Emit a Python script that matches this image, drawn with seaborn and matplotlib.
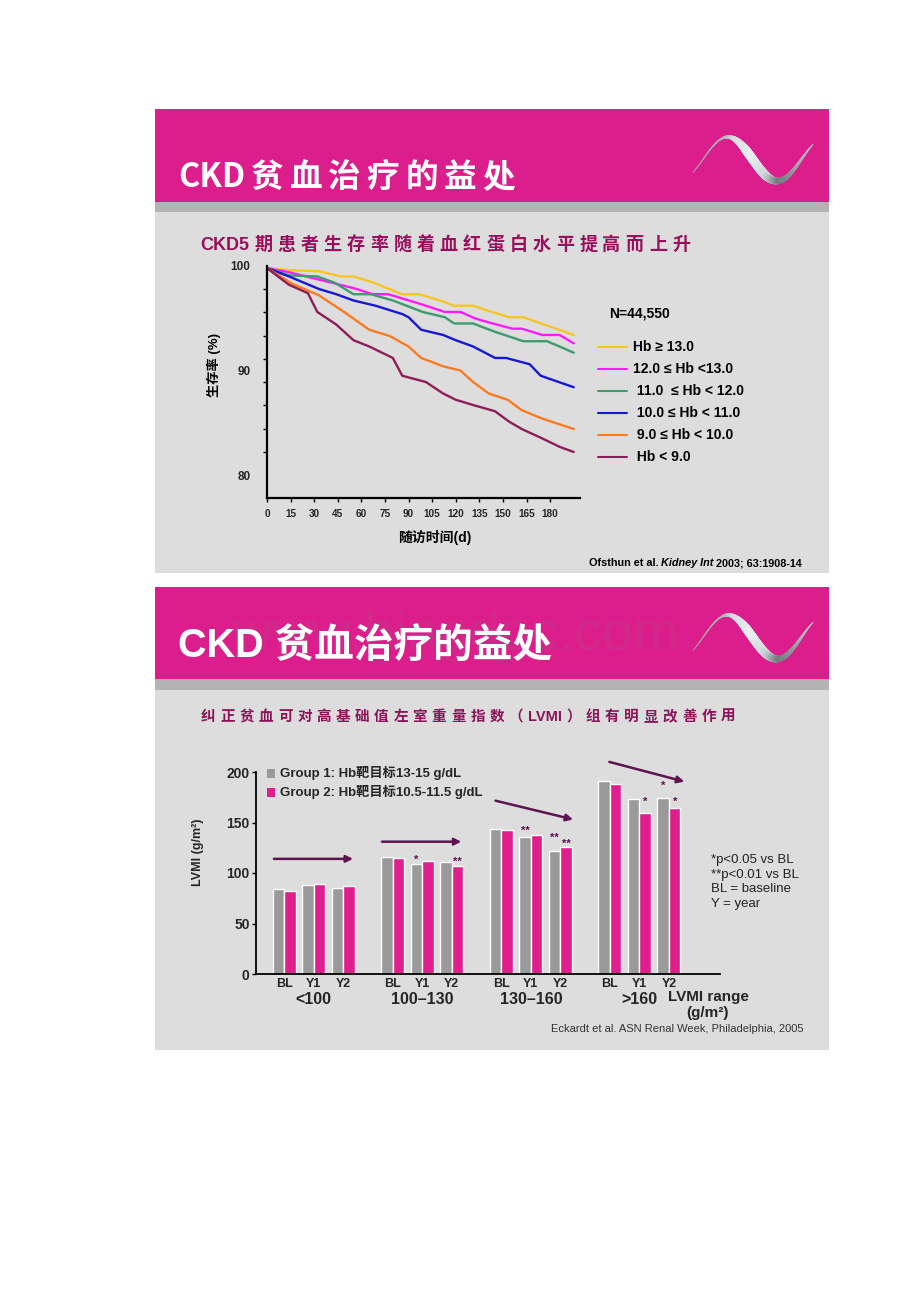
import re
import numpy as np
import pandas as pd
import matplotlib
matplotlib.use("Agg")
import matplotlib.pyplot as plt
import seaborn as sns
from matplotlib.patches import Rectangle
from matplotlib.collections import LineCollection

# ---------------- slide 1 data: survival by Hb band ----------------
HB_LABELS = ["Hb ≥ 13.0", "12.0 ≤ Hb <13.0", " 11.0  ≤ Hb < 12.0",
             " 10.0 ≤ Hb < 11.0", " 9.0 ≤ Hb < 10.0", " Hb < 9.0"]
HB_COLORS = ["#f7c623", "#ff1aff", "#3d9c6e", "#1717d4", "#ff7a1f", "#8e1d57"]

days_hb13 = [0, 15, 33, 47, 55, 68, 76, 86, 97, 112, 119, 131, 141, 154, 163, 195]
surv_hb13 = [99.8, 99.6, 99.5, 99.0, 99.0, 98.4, 97.9, 97.3, 97.3, 96.6, 96.2, 96.2, 95.7, 95.1, 95.1, 93.4]
days_hb12 = [0, 14, 33, 44, 57, 67, 77, 88, 99, 113, 123, 132, 141, 156, 162, 175, 186, 195]
surv_hb12 = [99.8, 99.4, 98.7, 98.3, 97.8, 97.3, 97.3, 96.8, 96.3, 95.6, 95.6, 95.0, 94.6, 94.0, 94.0, 93.4, 93.4, 92.6]
days_hb11 = [0, 14, 32, 43, 55, 66, 80, 99, 113, 119, 131, 145, 163, 178, 186, 195]
surv_hb11 = [99.8, 99.1, 99.0, 98.4, 97.3, 97.3, 96.7, 95.6, 95.1, 94.5, 94.5, 93.7, 92.8, 92.8, 92.3, 91.7]
days_hb10 = [0, 14, 33, 44, 55, 69, 86, 90, 98, 112, 120, 131, 145, 152, 167, 174, 195]
surv_hb10 = [99.8, 99.0, 97.8, 97.3, 96.7, 96.2, 95.4, 95.1, 93.9, 93.4, 92.9, 92.3, 91.2, 91.2, 90.6, 89.5, 88.4]
days_hb9 = [0, 16, 33, 50, 65, 78, 90, 98, 112, 123, 131, 141, 153, 162, 175, 195]
surv_hb9 = [99.8, 98.3, 97.2, 95.5, 93.9, 93.3, 92.3, 91.2, 90.4, 90.0, 88.9, 87.8, 87.2, 86.2, 85.4, 84.4]
days_hb0 = [0, 14, 26, 32, 44, 55, 65, 80, 86, 101, 112, 120, 131, 145, 154, 162, 175, 186, 195]
surv_hb0 = [99.8, 98.2, 97.4, 95.6, 94.4, 92.9, 92.3, 91.2, 89.5, 88.9, 87.8, 87.2, 86.7, 86.1, 85.1, 84.4, 83.5, 82.7, 82.2]

ALL_DAYS = [days_hb13, days_hb12, days_hb11, days_hb10, days_hb9, days_hb0]
ALL_SURV = [surv_hb13, surv_hb12, surv_hb11, surv_hb10, surv_hb9, surv_hb0]
DAY_TICKS = [0, 15, 30, 45, 60, 75, 90, 105, 120, 135, 150, 165, 180]

# ---------------- slide 2 data: LVMI by range ----------------
RANGES = ["<100", "100–130", "130–160", ">160"]
VISITS = ["BL", "Y1", "Y2"]
GROUP_NAMES = ["Group 1: Hb靶目标13-15 g/dL", "Group 2: Hb靶目标10.5-11.5 g/dL"]
lvmi_group1 = [84.0, 88.3, 85.6, 115.4, 109.1, 110.4, 143.5, 135.5, 122.0, 190.7, 173.6, 174.5]
lvmi_group2 = [82.6, 89.3, 87.3, 114.7, 111.4, 106.8, 142.1, 137.9, 125.3, 188.1, 159.0, 164.0]
# (range, visit, group, mark, level)
STARS = [(1, 1, 0, "*", 115.8), (1, 2, 1, "**", 113.6),
         (2, 1, 0, "**", 145.2), (2, 2, 0, "**", 137.6), (2, 2, 1, "**", 131.7),
         (3, 1, 1, "*", 173.0), (3, 2, 0, "*", 188.8), (3, 2, 1, "*", 173.0)]
ARROW_LEVELS = [(114, 114), (131, 131), (171.6, 153), (210, 190.5)]
NOTES = ["*p<0.05 vs BL", "**p<0.01 vs BL", "BL = baseline", "Y = year"]

PINK = "#dc1e8c"
BAND = "#b3b3b3"
SLIDE_BG = "#dddddd"
BAR_GRAY = "#9a9a9a"
BAR_PINK = "#df1f8d"
PURPLE = "#5e1250"

W, H = 920, 1302


def px_box(x0, y0, x1, y1):
    return [x0 / W, 1 - y1 / H, (x1 - x0) / W, (y1 - y0) / H]


def spaced_text(ax, s, x0, x1, y, space=0.0, **kw):
    # slide titles are tracked out: latin runs stay whole, each CJK char is spread to fill x0..x1
    r = ax.figure.canvas.get_renderer()
    tokens = re.findall(r"[A-Za-z0-9]+| |.", s)
    arts, widths = [], []
    for tok in tokens:
        if tok == " ":
            arts.append(None)
            widths.append(space)
            continue
        t = ax.text(0, y, tok, ha="left", va="baseline", **kw)
        arts.append(t)
        widths.append(t.get_window_extent(r).width)
    n_gaps = sum(1 for a in arts if a is not None) - 1
    gap = (x1 - x0 - sum(widths)) / n_gaps
    x = x0
    for t, w in zip(arts, widths):
        if t is None:
            x += w
            continue
        t.set_x(x)
        x += w + gap


def run_text(ax, x, y, runs, **kw):
    # consecutive pieces of one line with different styles
    r = ax.figure.canvas.get_renderer()
    for txt, extra in runs:
        opts = dict(kw)
        opts.update(extra)
        t = ax.text(x, y, txt, ha="left", va="baseline", **opts)
        x += t.get_window_extent(r).width + opts.get("fontsize", 10) * 0.3


def draw_logo(ax, x0, x1, ytop, ybot):
    t = np.linspace(0, 1, 300)
    xs = x0 + (x1 - x0) * t
    mid, amp = (ytop + ybot) / 2, (ybot - ytop) / 2
    ys = mid - amp * np.sin(2 * np.pi * (t - 0.085) / 0.82)
    tm = (t[:-1] + t[1:]) / 2
    widths = np.interp(tm, [0, 0.22, 0.32, 0.45, 0.6, 0.72, 0.85, 1], [0.5, 1.2, 3, 6.5, 6.5, 4.5, 2.5, 0.6])
    shade = np.interp(tm, [0, 0.25, 0.35, 0.5, 0.62, 0.72, 0.8, 0.9, 1],
                      [0.55, 0.6, 0.85, 0.95, 0.8, 0.3, 0.4, 0.6, 0.75])
    cols = [(0.25 + 0.7 * s, 0.27 + 0.7 * s, 0.3 + 0.68 * s) for s in shade]
    segs = np.stack([np.column_stack([xs[:-1], ys[:-1]]),
                     np.column_stack([xs[1:], ys[1:]])], axis=1)
    ax.add_collection(LineCollection(segs, linewidths=widths, colors=cols, capstyle="round"))


sns.set_theme(style="white")
plt.rcParams["font.family"] = ["Liberation Sans", "Noto Sans CJK SC", "DejaVu Sans"]
CJK_BOLD = dict(family=["Noto Sans CJK SC", "DejaVu Sans"], fontweight="bold")
LAT_BOLD = dict(family=["Liberation Sans", "Noto Sans CJK SC", "DejaVu Sans"], fontweight="bold")

fig = plt.figure(figsize=(W / 100, H / 100), dpi=100)
fig.patch.set_facecolor("white")

bg = fig.add_axes([0, 0, 1, 1])
bg.set_xlim(0, W)
bg.set_ylim(H, 0)
bg.axis("off")

# slide frames
for top, head, band, bottom in [(109, 202, 212, 573), (587, 679, 690, 1050)]:
    bg.add_patch(Rectangle((155, top), 674, bottom - top, color=SLIDE_BG, lw=0))
    bg.add_patch(Rectangle((155, top), 674, head - top, color=PINK, lw=0))
    bg.add_patch(Rectangle((155, head), 674, band - head, color=BAND, lw=0))

bg.text(455, 650, "www.bingdoc.com", fontsize=40, color="#7a7a7a", alpha=0.12,
        ha="center", va="baseline", family="Liberation Sans")

spaced_text(bg, "CKD贫血治疗的益处", 178, 515, 187, fontsize=23.5, color="white", **CJK_BOLD)
bg.text(178, 657, "CKD 贫血治疗的益处", fontsize=28.5, color="white", ha="left", va="baseline", **LAT_BOLD)
draw_logo(bg, 693, 813, 137, 181)
draw_logo(bg, 693, 813, 615, 659)

spaced_text(bg, "CKD5期患者生存率随着血红蛋白水平提高而上升", 200, 690, 250,
            fontsize=13, color="#990f5c", **LAT_BOLD)
spaced_text(bg, "纠正贫血可对高基础值左室重量指数（LVMI）组有明显改善作用", 201, 735, 721,
            fontsize=10.5, color="#8c1458", **LAT_BOLD)

# ---------------- chart 1: survival lines ----------------
ax1 = fig.add_axes(px_box(267, 266, 580, 498))
ax1.set_facecolor("none")
df_surv = pd.concat([pd.DataFrame({"day": d, "surv": s, "band": lab})
                     for d, s, lab in zip(ALL_DAYS, ALL_SURV, HB_LABELS)], ignore_index=True)
sns.lineplot(data=df_surv, x="day", y="surv", hue="band", palette=dict(zip(HB_LABELS, HB_COLORS)),
             estimator=None, sort=False, linewidth=1.7, legend=False, ax=ax1)
ax1.set_xlim(0, 199)
ax1.set_ylim(77.8, 100)
for side in ["top", "right"]:
    ax1.spines[side].set_visible(False)
for side in ["left", "bottom"]:
    ax1.spines[side].set_color("black")
    ax1.spines[side].set_linewidth(1.6)
ax1.set_xticks(DAY_TICKS)
ax1.set_xticklabels([str(d) for d in DAY_TICKS], fontsize=7.2, fontweight="bold")
ax1.set_yticks([80, 90, 100])
ax1.set_yticklabels(["80", "90", "100"], fontsize=8.5, fontweight="bold")
ax1.set_yticks(np.linspace(80, 100, 10), minor=True)
ax1.tick_params(axis="x", length=3, width=1, color="black", pad=5, direction="out", bottom=True)
ax1.tick_params(axis="y", which="major", length=0, pad=12)
ax1.tick_params(axis="y", which="minor", length=3, width=1, color="black", direction="out", left=True)
ax1.set_xlabel("")
ax1.set_ylabel("")

bg.text(435, 537, "随访时间(d)", fontsize=10, ha="center", va="center", color="black", **LAT_BOLD)
bg.text(214, 365, "生存率 (%)", fontsize=9.5, ha="center", va="center", rotation=90,
        color="black", **LAT_BOLD)

bg.text(609, 313, "N=44,550", fontsize=10, ha="left", va="center", color="black", **LAT_BOLD)
for i, (lab, col) in enumerate(zip(HB_LABELS, HB_COLORS)):
    yy = 347 + 22 * i
    bg.plot([598, 627], [yy, yy], color=col, lw=1.5)
    bg.text(633, yy, lab, fontsize=10, ha="left", va="center", color="black", **LAT_BOLD)

run_text(bg, 589, 566, [("Ofsthun et al.", {}), ("Kidney Int", {"fontstyle": "italic"}),
                        ("2003; 63:1908-14", {})], fontsize=7.8, color="black", **LAT_BOLD)

# ---------------- chart 2: LVMI bars ----------------
GROUP_STEP = 3.68
positions = [g * GROUP_STEP + v for g in range(len(RANGES)) for v in range(len(VISITS))]
df_bar = pd.DataFrame({
    "pos": positions * 2,
    "lvmi": lvmi_group1 + lvmi_group2,
    "grp": [GROUP_NAMES[0]] * len(positions) + [GROUP_NAMES[1]] * len(positions),
})

ax2 = fig.add_axes(px_box(256, 772, 720, 974))
ax2.set_facecolor("none")
sns.barplot(data=df_bar, x="pos", y="lvmi", hue="grp", native_scale=True, width=0.78,
            palette=[BAR_GRAY, BAR_PINK], saturation=1, errorbar=None, legend=False, ax=ax2)
ax2.set_xlim(-0.96, 14.77)
ax2.set_ylim(0, 200)
for side in ["top", "right"]:
    ax2.spines[side].set_visible(False)
for side in ["left", "bottom"]:
    ax2.spines[side].set_color("black")
    ax2.spines[side].set_linewidth(1.3)
ax2.set_xticks(positions)
ax2.set_xticklabels(VISITS * len(RANGES), fontsize=9, fontweight="bold")
ax2.tick_params(axis="x", length=0, pad=3)
ax2.set_yticks([0, 50, 100, 150, 200])
ax2.set_yticklabels(["0", "50", "100", "150", "200"], fontsize=10, fontweight="bold")
ax2.tick_params(axis="y", length=3, width=1, color="black", pad=1.5, direction="out", left=True)
ax2.set_xlabel("")
ax2.set_ylabel("")

xaxis_tr = ax2.get_xaxis_transform()
for g, rng in enumerate(RANGES):
    ax2.text(g * GROUP_STEP + 1, -0.125, rng, transform=xaxis_tr, fontsize=11.5, fontweight="bold",
             ha="center", va="center", clip_on=False)

ARROW_X = [(-0.35, 2.33), (-0.37, 2.32), (-0.2, 2.43), (-0.02, 2.52)]
for g, ((xa, xb), (ya, yb)) in enumerate(zip(ARROW_X, ARROW_LEVELS)):
    base = g * GROUP_STEP
    ax2.annotate("", xy=(base + xb, yb), xytext=(base + xa, ya),
                 arrowprops=dict(arrowstyle="-|>", color=PURPLE, lw=1.8, mutation_scale=10,
                                 shrinkA=0, shrinkB=0), annotation_clip=False)

for g, v, grp, mark, level in STARS:
    xx = g * GROUP_STEP + v + (-0.195 if grp == 0 else 0.195)
    ax2.text(xx, level - 3, mark, fontsize=8, color=PURPLE, ha="center", va="center",
             fontweight="bold", clip_on=False)

bg.text(198, 852, "LVMI (g/m²)", fontsize=9, rotation=90, ha="center", va="center", **LAT_BOLD)
for i, (lab, col) in enumerate(zip(GROUP_NAMES, [BAR_GRAY, BAR_PINK])):
    yy = 773 + 19 * i
    bg.add_patch(Rectangle((267, yy - 4.5), 8, 9, color=col, lw=0))
    bg.text(280, yy, lab, fontsize=9.5, ha="left", va="center", **LAT_BOLD)

for i, note in enumerate(NOTES):
    bg.text(711, 860 + 14.7 * i, note, fontsize=9.5, ha="left", va="center", color="#222222",
            family="Liberation Sans")

bg.text(708, 997, "LVMI range", fontsize=11, ha="center", va="center", **LAT_BOLD)
bg.text(708, 1013, "(g/m²)", fontsize=11, ha="center", va="center", **LAT_BOLD)
bg.text(551, 1029, "Eckardt et al. ASN Renal Week, Philadelphia, 2005", fontsize=8,
        ha="left", va="center", color="#333333", family="Liberation Sans")

fig.savefig("out.png", dpi=100, facecolor="white")
